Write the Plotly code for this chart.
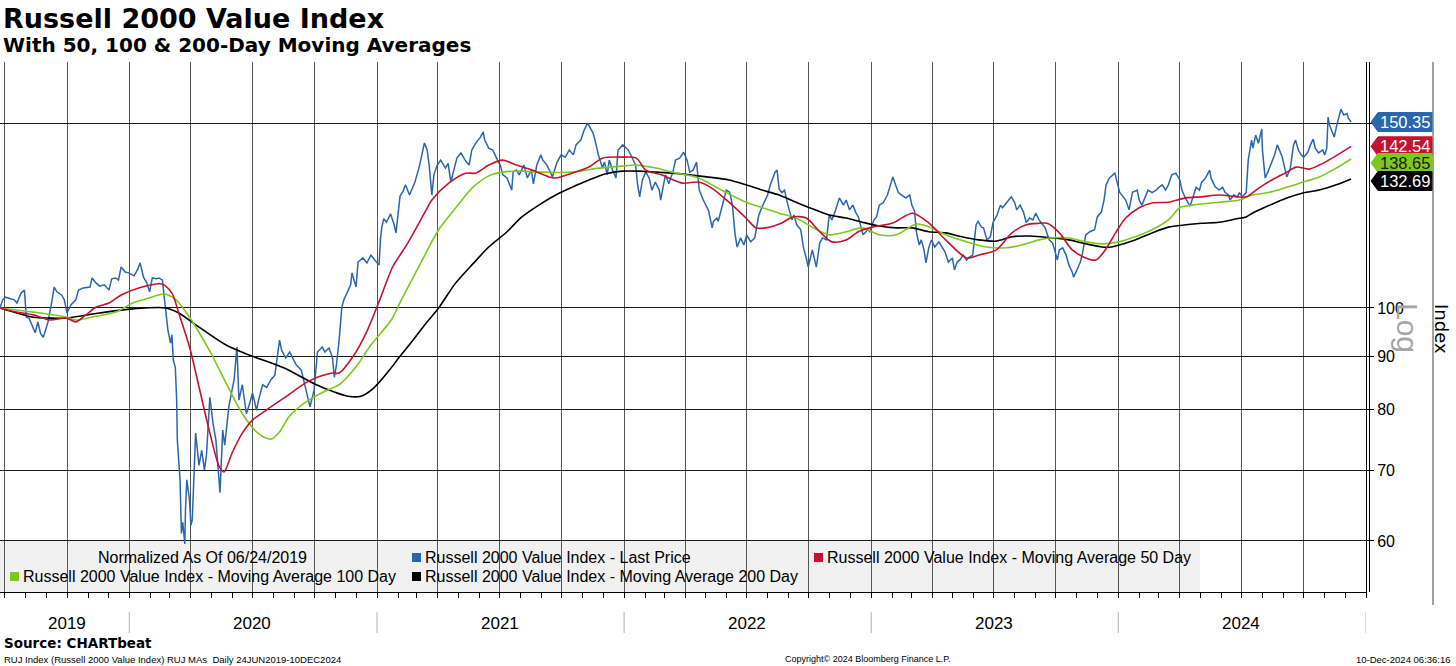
import math
import plotly.graph_objects as go

# ---------------- data ----------------
price_dates = [
"2019-06-24","2019-06-28","2019-07-02","2019-07-09","2019-07-15","2019-07-19","2019-07-25","2019-07-30",
"2019-08-02","2019-08-06","2019-08-12","2019-08-15","2019-08-19","2019-08-23","2019-08-27","2019-09-03",
"2019-09-09","2019-09-12","2019-09-16","2019-09-23","2019-09-27","2019-10-01","2019-10-07","2019-10-14",
"2019-10-18","2019-10-25","2019-11-04","2019-11-07","2019-11-13","2019-11-18","2019-11-25","2019-12-02",
"2019-12-06","2019-12-12","2019-12-16","2019-12-20","2019-12-26","2019-12-31",
"2020-01-08","2020-01-13","2020-01-17","2020-01-22","2020-01-27","2020-01-31","2020-02-04","2020-02-10",
"2020-02-14","2020-02-19","2020-02-21","2020-02-24","2020-02-27","2020-03-02","2020-03-04","2020-03-06",
"2020-03-09","2020-03-11","2020-03-12","2020-03-16","2020-03-18","2020-03-20","2020-03-23","2020-03-24",
"2020-03-26","2020-03-30","2020-04-01","2020-04-03","2020-04-06","2020-04-08","2020-04-13","2020-04-17",
"2020-04-21","2020-04-24","2020-04-29","2020-05-04","2020-05-08","2020-05-14","2020-05-18","2020-05-21",
"2020-05-27","2020-06-01","2020-06-04","2020-06-08","2020-06-11","2020-06-16","2020-06-22","2020-06-26",
"2020-07-01","2020-07-07","2020-07-10","2020-07-16","2020-07-22","2020-07-28","2020-08-03","2020-08-10",
"2020-08-13","2020-08-19","2020-08-25","2020-08-31","2020-09-04","2020-09-11","2020-09-17","2020-09-21",
"2020-09-24","2020-09-30","2020-10-05","2020-10-12","2020-10-16","2020-10-22","2020-10-27","2020-10-30",
"2020-11-02","2020-11-06","2020-11-10","2020-11-13","2020-11-18","2020-11-23","2020-11-25","2020-12-01",
"2020-12-04","2020-12-11","2020-12-17","2020-12-23","2020-12-31",
"2021-01-04","2021-01-06","2021-01-08","2021-01-11","2021-01-15","2021-01-21","2021-01-26","2021-01-29",
"2021-02-04","2021-02-08","2021-02-12","2021-02-18","2021-02-26","2021-03-05","2021-03-12","2021-03-16",
"2021-03-19","2021-03-23","2021-03-26","2021-03-31","2021-04-05","2021-04-12","2021-04-16","2021-04-20",
"2021-04-26","2021-04-29","2021-05-05","2021-05-11","2021-05-17","2021-05-21","2021-05-27","2021-06-02",
"2021-06-07","2021-06-09","2021-06-15","2021-06-21","2021-06-28","2021-07-02","2021-07-06","2021-07-12",
"2021-07-19","2021-07-21","2021-07-26","2021-07-30","2021-08-06","2021-08-11","2021-08-17","2021-08-20",
"2021-08-25","2021-08-31","2021-09-03","2021-09-09","2021-09-14","2021-09-17","2021-09-24","2021-09-30",
"2021-10-06","2021-10-12","2021-10-18","2021-10-22","2021-10-29","2021-11-03","2021-11-08","2021-11-12",
"2021-11-16","2021-11-19","2021-11-24","2021-11-30","2021-12-03","2021-12-07","2021-12-10","2021-12-15",
"2021-12-20","2021-12-23","2021-12-30",
"2022-01-04","2022-01-07","2022-01-12","2022-01-18","2022-01-21","2022-01-24","2022-01-28","2022-02-02",
"2022-02-07","2022-02-11","2022-02-16","2022-02-22","2022-02-24","2022-03-03","2022-03-08","2022-03-14",
"2022-03-18","2022-03-24","2022-03-30","2022-04-04","2022-04-08","2022-04-13","2022-04-18","2022-04-22",
"2022-04-28","2022-05-02","2022-05-06","2022-05-11","2022-05-13","2022-05-18","2022-05-20","2022-05-24",
"2022-06-01","2022-06-06","2022-06-10","2022-06-14","2022-06-17","2022-06-22","2022-06-27","2022-07-01",
"2022-07-07","2022-07-13","2022-07-19","2022-07-25","2022-08-01","2022-08-05","2022-08-12","2022-08-15",
"2022-08-18","2022-08-22","2022-08-26","2022-08-31","2022-09-06","2022-09-09","2022-09-13","2022-09-19",
"2022-09-23","2022-09-27","2022-09-30","2022-10-06","2022-10-12","2022-10-17","2022-10-21","2022-10-27",
"2022-10-31","2022-11-04","2022-11-09","2022-11-15","2022-11-21","2022-11-25","2022-11-30","2022-12-05",
"2022-12-09","2022-12-13","2022-12-20","2022-12-27","2022-12-30",
"2023-01-05","2023-01-09","2023-01-13","2023-01-19","2023-01-25","2023-02-02","2023-02-06","2023-02-10",
"2023-02-15","2023-02-21","2023-02-27","2023-03-02","2023-03-06","2023-03-09","2023-03-13","2023-03-16",
"2023-03-20","2023-03-23","2023-03-27","2023-03-31","2023-04-05","2023-04-11","2023-04-14","2023-04-20",
"2023-04-25","2023-05-01","2023-05-04","2023-05-08","2023-05-12","2023-05-17","2023-05-22","2023-05-26",
"2023-05-31","2023-06-05","2023-06-08","2023-06-13","2023-06-16","2023-06-21","2023-06-26","2023-06-30",
"2023-07-06","2023-07-11","2023-07-14","2023-07-20","2023-07-27","2023-08-01","2023-08-04","2023-08-09",
"2023-08-14","2023-08-18","2023-08-23","2023-08-28","2023-09-01","2023-09-06","2023-09-11","2023-09-15",
"2023-09-21","2023-09-26","2023-09-29","2023-10-03","2023-10-06","2023-10-11","2023-10-16","2023-10-20",
"2023-10-25","2023-10-27","2023-11-01","2023-11-06","2023-11-09","2023-11-14","2023-11-20","2023-11-27",
"2023-12-01","2023-12-07","2023-12-11","2023-12-14","2023-12-19","2023-12-27",
"2024-01-03","2024-01-08","2024-01-12","2024-01-17","2024-01-22","2024-01-29","2024-02-01","2024-02-05",
"2024-02-09","2024-02-14","2024-02-20","2024-02-26","2024-03-01","2024-03-06","2024-03-11","2024-03-15",
"2024-03-20","2024-03-26","2024-04-01","2024-04-04","2024-04-09","2024-04-16","2024-04-19","2024-04-25",
"2024-04-30","2024-05-03","2024-05-09","2024-05-15","2024-05-17","2024-05-23","2024-05-29","2024-06-03",
"2024-06-07","2024-06-12","2024-06-14","2024-06-20","2024-06-25","2024-06-28","2024-07-02","2024-07-08",
"2024-07-11","2024-07-16","2024-07-18","2024-07-22","2024-07-26","2024-07-31","2024-08-01","2024-08-05",
"2024-08-09","2024-08-13","2024-08-19","2024-08-23","2024-08-27","2024-08-30","2024-09-06","2024-09-11",
"2024-09-16","2024-09-19","2024-09-23","2024-09-27","2024-10-01","2024-10-07","2024-10-11","2024-10-15",
"2024-10-18","2024-10-23","2024-10-29","2024-11-01","2024-11-04","2024-11-06","2024-11-08","2024-11-13",
"2024-11-15","2024-11-19","2024-11-25","2024-11-29","2024-12-04","2024-12-06","2024-12-10",
]
price_vals = [
100.0,101.8,102.4,102.0,101.8,101.1,103.3,104.0,
98.0,97.8,95.9,94.7,97.0,94.5,93.8,97.0,
101.8,104.7,103.6,102.9,101.8,98.9,100.7,101.8,
104.0,104.5,104.7,106.8,105.6,104.9,105.2,104.0,
106.6,106.8,106.3,109.4,108.2,108.0,
107.3,108.7,110.4,107.0,105.6,103.6,106.8,106.6,
106.8,106.3,103.3,99.6,95.3,92.6,94.3,89.2,
87.8,81.7,74.8,68.6,61.0,62.5,59.6,64.2,
68.6,65.6,62.1,62.8,70.1,76.0,70.8,73.2,
70.1,72.4,82.2,77.4,74.8,66.7,76.5,74.0,
80.5,83.5,85.6,91.8,81.7,84.5,79.3,80.8,
83.0,79.9,81.7,84.5,84.0,85.4,86.3,93.2,
91.2,89.6,90.8,89.2,88.2,87.3,84.1,81.7,
80.5,83.5,90.8,91.8,90.8,91.6,89.8,85.9,
88.2,93.2,100.2,101.8,103.3,105.2,108.0,104.7,
110.6,111.6,110.4,112.3,110.6,
109.9,116.1,119.4,121.6,120.7,122.9,120.2,117.9,
127.8,129.0,131.0,128.1,131.8,136.8,143.6,141.4,
136.8,128.1,133.9,136.8,138.3,135.9,137.3,131.8,
136.8,138.9,140.5,138.3,136.8,141.4,143.6,145.2,
147.1,144.5,142.0,141.4,138.3,136.8,133.9,133.0,
129.5,134.7,135.3,133.9,136.8,133.0,135.3,131.3,
136.8,139.9,138.3,136.8,134.7,133.3,137.7,139.9,
139.2,141.4,139.9,143.0,144.5,147.7,150.0,148.4,
146.8,144.5,139.9,135.9,137.7,133.9,138.3,135.3,
133.0,141.4,143.0,
142.0,141.4,139.4,136.8,131.0,127.6,132.4,134.7,
133.0,129.5,131.8,129.5,126.7,133.9,131.3,134.7,
138.3,138.9,140.7,138.3,134.7,135.3,137.7,129.5,
126.7,125.0,123.7,119.2,120.9,121.8,120.9,123.7,
129.5,128.9,125.3,117.4,114.3,116.6,114.8,117.4,
115.6,116.6,122.6,125.3,128.1,131.0,134.7,135.3,
129.8,128.8,129.5,125.3,121.3,122.6,120.0,118.7,
114.1,111.6,109.4,113.6,109.4,115.3,116.6,116.1,
122.6,121.3,123.7,127.3,125.3,126.7,124.0,125.3,
123.4,122.1,117.4,118.7,118.2,
121.3,122.1,125.3,126.0,128.1,133.3,131.0,128.9,
128.1,127.3,128.1,125.3,123.7,117.9,114.8,116.1,
113.6,110.4,114.1,116.1,114.3,115.6,114.8,113.1,
110.6,111.6,108.7,110.6,111.1,112.3,111.1,111.8,
112.3,120.0,120.9,119.4,119.2,116.1,116.9,120.6,
122.6,125.3,124.6,125.9,127.6,126.0,124.0,125.3,
123.4,120.6,121.8,121.3,123.1,121.3,120.0,119.2,
116.1,115.3,113.6,111.1,113.6,114.1,112.3,109.9,
108.2,107.0,108.7,110.6,112.6,117.4,118.2,118.7,
122.1,123.4,126.7,131.0,133.0,134.4,
128.9,127.6,126.7,124.0,128.9,129.5,126.7,125.3,
127.3,129.5,128.8,129.5,130.3,131.0,129.5,131.0,
133.9,134.4,132.4,129.5,127.3,125.0,126.7,130.3,
129.5,131.7,133.0,135.3,133.0,130.5,129.5,130.3,
128.8,128.1,126.7,128.1,127.6,128.8,127.6,128.8,
138.3,144.5,142.0,146.1,143.5,148.1,141.4,133.0,
134.7,136.8,139.9,143.0,140.7,139.4,133.3,135.6,
143.0,144.5,141.4,139.9,139.2,140.7,143.0,144.8,
142.0,140.5,141.4,139.9,142.0,152.0,149.4,146.8,
145.5,149.4,154.6,152.7,153.2,151.6,150.35,
]

ma50_dates = [
"2019-06-24","2019-07-18","2019-08-12","2019-09-05","2019-09-30","2019-10-14","2019-10-29","2019-11-13",
"2019-12-02","2019-12-20","2020-01-15","2020-02-18","2020-03-04","2020-03-14","2020-03-30","2020-04-13",
"2020-04-28","2020-05-13","2020-05-20","2020-06-01","2020-06-16","2020-07-01","2020-07-21","2020-08-19",
"2020-09-17","2020-10-03","2020-10-27","2020-11-06","2020-11-26","2020-12-16","2021-01-05","2021-01-24",
"2021-02-14","2021-03-12","2021-03-23","2021-04-17","2021-05-12","2021-05-27","2021-06-15","2021-07-05",
"2021-07-26","2021-08-18","2021-09-12","2021-09-22","2021-10-16","2021-11-10","2021-11-30","2021-12-29",
"2022-01-19","2022-02-02","2022-02-25","2022-03-28","2022-04-21","2022-05-11","2022-06-05","2022-06-30",
"2022-07-15","2022-07-29","2022-08-22","2022-09-07","2022-09-27","2022-10-17","2022-11-04","2022-11-25",
"2022-12-13","2023-01-03","2023-02-02","2023-03-03","2023-03-27","2023-04-21","2023-05-22","2023-06-09",
"2023-07-05","2023-07-28","2023-08-18","2023-09-06","2023-09-18","2023-10-06","2023-10-25","2023-11-14",
"2023-11-29","2023-12-13","2023-12-28","2024-01-12","2024-02-01","2024-02-20","2024-03-15","2024-04-10",
"2024-05-03","2024-05-29","2024-06-24","2024-07-08","2024-07-26","2024-08-15","2024-09-06","2024-09-20",
"2024-10-09","2024-10-24","2024-11-12","2024-12-10",
]
ma50_vals = [
100.0,99.1,98.5,97.4,97.8,97.0,98.5,100.2,
101.1,102.9,104.5,105.4,103.3,98.9,91.8,84.1,
76.5,70.6,69.8,72.8,76.0,78.2,79.9,82.3,
84.8,85.8,86.7,86.7,89.8,94.7,101.8,109.4,
114.9,123.1,126.7,131.5,134.4,134.4,136.8,138.3,
136.8,135.3,133.3,133.0,134.4,136.2,138.9,139.2,
138.9,135.3,133.9,131.5,131.8,130.0,126.1,121.8,
119.2,119.2,120.5,122.1,121.8,118.2,115.6,116.1,
118.2,119.4,120.5,123.1,120.5,116.1,111.6,112.3,
113.6,117.9,120.0,120.4,120.4,117.9,113.6,111.6,
111.1,113.6,117.9,121.8,124.6,125.9,126.1,127.3,
127.6,128.1,127.6,127.6,130.0,132.4,134.7,136.2,
135.6,136.8,138.9,142.54,
]

ma100_dates = [
"2019-06-24","2019-08-12","2019-09-30","2019-10-14","2019-11-06","2019-12-12","2020-01-06","2020-01-30",
"2020-02-21","2020-03-10","2020-03-30","2020-04-28","2020-05-23","2020-06-16","2020-07-10","2020-07-28",
"2020-08-10","2020-08-24","2020-09-17","2020-10-19","2020-11-06","2020-12-01","2020-12-24","2021-01-22",
"2021-02-05","2021-03-12","2021-04-02","2021-04-28","2021-05-21","2021-06-15","2021-07-05","2021-08-03",
"2021-08-28","2021-10-16","2021-11-25","2021-12-29","2022-01-19","2022-02-17","2022-03-13","2022-04-21",
"2022-05-20","2022-06-30","2022-07-24","2022-08-18","2022-09-12","2022-10-06","2022-10-31","2022-11-25",
"2022-12-19","2023-01-13","2023-02-07","2023-03-09","2023-03-31","2023-04-21","2023-05-22","2023-06-20",
"2023-07-19","2023-08-11","2023-09-06","2023-09-21","2023-10-20","2023-11-14","2023-12-08","2024-01-02",
"2024-01-26","2024-02-20","2024-03-15","2024-04-01","2024-04-19","2024-05-29","2024-06-28","2024-07-17",
"2024-08-12","2024-09-06","2024-09-30","2024-10-24","2024-11-18","2024-12-10",
]
ma100_vals = [
100.0,99.1,98.0,97.4,98.0,99.1,101.1,102.2,
103.1,101.8,98.0,91.2,84.8,79.3,75.9,75.0,
76.2,78.8,81.3,83.5,84.5,87.9,92.4,97.4,
101.5,112.1,118.7,124.7,130.0,133.6,134.7,135.0,
134.7,134.7,135.9,136.5,136.8,135.9,134.7,133.0,
130.0,126.1,124.6,123.1,121.8,119.4,117.4,118.2,
119.2,117.4,117.4,120.2,119.2,117.4,115.6,114.3,
114.1,114.8,116.1,116.6,116.6,115.6,115.1,115.6,
116.9,118.7,121.3,124.6,125.3,126.1,126.7,128.1,
128.9,130.3,131.8,133.3,135.9,138.65,
]

ma200_dates = [
"2019-06-24","2019-08-12","2019-09-05","2019-09-30","2019-11-18","2020-01-06","2020-02-24","2020-03-14",
"2020-04-13","2020-05-23","2020-06-26","2020-08-16","2020-09-30","2020-10-29","2020-11-19","2020-12-08",
"2020-12-27","2021-01-22","2021-02-03","2021-02-21","2021-03-12","2021-04-02","2021-04-27","2021-05-24",
"2021-06-15","2021-07-12","2021-08-03","2021-08-28","2021-09-22","2021-10-16","2021-11-10","2021-12-05",
"2021-12-29","2022-01-23","2022-02-17","2022-03-13","2022-04-07","2022-05-03","2022-06-05","2022-06-30",
"2022-07-24","2022-08-18","2022-09-12","2022-10-06","2022-10-31","2022-11-25","2022-12-19","2023-01-13",
"2023-02-07","2023-03-03","2023-03-27","2023-04-21","2023-05-15","2023-06-09","2023-07-05","2023-07-28",
"2023-08-23","2023-09-26","2023-10-20","2023-11-14","2023-12-08","2023-12-22","2024-01-02","2024-01-26",
"2024-02-20","2024-03-15","2024-04-10","2024-05-03","2024-05-29","2024-06-24","2024-07-08","2024-07-17",
"2024-08-12","2024-09-06","2024-09-30","2024-10-24","2024-11-18","2024-12-10",
]
ma200_vals = [
100.0,98.0,97.8,97.8,98.9,99.8,100.0,98.9,
95.9,92.2,90.2,87.7,84.7,83.2,82.4,82.4,
83.9,87.7,89.8,92.8,96.3,100.0,105.6,110.4,
114.3,118.2,122.1,125.3,128.1,130.3,132.4,134.2,
135.0,135.0,134.7,134.4,133.9,133.3,132.4,131.0,
129.5,128.1,126.1,124.3,122.6,121.8,120.7,119.7,
119.2,119.2,118.2,117.9,116.9,116.1,115.8,116.9,
117.1,116.6,116.1,115.1,114.3,114.3,114.8,116.1,
117.9,119.4,120.0,120.4,120.7,121.6,122.1,123.1,
125.3,127.3,128.7,129.5,131.0,132.69,
]

y_tick_vals = [60, 70, 80, 90, 100, 150]
y_tick_text = ["60", "70", "80", "90", "100", ""]
year_labels = ["2019", "2020", "2021", "2022", "2023", "2024"]
year_label_dates = ["2019-10-01", "2020-07-01", "2021-07-01", "2022-07-01", "2023-07-01", "2024-07-01"]
year_bounds = ["2020-01-01", "2021-01-01", "2022-01-01", "2023-01-01", "2024-01-01", "2025-01-01"]
x_start, x_end = "2019-06-24", "2025-01-01"
y_lo, y_hi = 53.64, 171.5

series_names = [
    "Russell 2000 Value Index - Last Price",
    "Russell 2000 Value Index - Moving Average 50 Day",
    "Russell 2000 Value Index - Moving Average 100 Day",
    "Russell 2000 Value Index - Moving Average 200 Day",
]
last_labels = ["150.35", "142.54", "138.65", "132.69"]
last_values = [150.35, 142.54, 138.65, 132.69]

# ---------------- styling ----------------
BLUE = "#2a66ae"
RED = "#c3132f"
GREEN = "#7ec81e"
BLACK = "#000000"
FONT = "Liberation Sans"

W, H = 1456, 666
ML, MR, MT, MB = 0, 90, 62, 74
PW, PH = W - ML - MR, H - MT - MB


def px_x(px):
    return (px - ML) / PW


def px_y(py):
    return (H - MB - py) / PH


fig = go.Figure()
fig.add_trace(go.Scatter(x=price_dates, y=price_vals, mode="lines", name=series_names[0],
                         line=dict(color=BLUE, width=1.5)))
fig.add_trace(go.Scatter(x=ma200_dates, y=ma200_vals, mode="lines", name=series_names[3],
                         line=dict(color=BLACK, width=1.6, shape="spline", smoothing=0.8)))
fig.add_trace(go.Scatter(x=ma100_dates, y=ma100_vals, mode="lines", name=series_names[2],
                         line=dict(color=GREEN, width=1.6, shape="spline", smoothing=0.8)))
fig.add_trace(go.Scatter(x=ma50_dates, y=ma50_vals, mode="lines", name=series_names[1],
                         line=dict(color=RED, width=1.6, shape="spline", smoothing=0.8)))

fig.update_layout(
    width=W, height=H, margin=dict(l=ML, r=MR, t=MT, b=MB),
    paper_bgcolor="white", plot_bgcolor="white", showlegend=False,
    font=dict(family=FONT, color="#000"),
)
fig.update_xaxes(
    type="date", range=[x_start, x_end], dtick="M3", tick0="2019-07-01",
    showgrid=True, gridcolor="#555555", gridwidth=1, showticklabels=False,
    ticks="outside", ticklen=5, tickcolor="#000", showline=True, linecolor="#000", linewidth=1,
    minor=dict(dtick="M1", tick0="2019-07-01", ticks="outside", ticklen=5, tickcolor="#000", showgrid=False),
    zeroline=False,
)
fig.update_yaxes(
    type="log", range=[math.log10(y_lo), math.log10(y_hi)], side="right",
    tickvals=y_tick_vals, ticktext=y_tick_text, showgrid=True, gridcolor="#1a1a1a", gridwidth=1,
    ticks="outside", ticklen=7, tickcolor="#000", showline=True, linecolor="#000", linewidth=1,
    tickfont=dict(family=FONT, size=16, color="#000"), zeroline=False,
)

shapes = []
annotations = []

# legend background (beneath grid lines)
shapes.append(dict(type="rect", xref="paper", yref="paper", x0=px_x(0), x1=px_x(1200),
                   y0=px_y(592), y1=px_y(541), fillcolor="#f1f1f1", line=dict(width=0), layer="below"))
# second right axis line
shapes.append(dict(type="line", xref="paper", yref="paper", x0=px_x(1369.5), x1=px_x(1369.5),
                   y0=0, y1=1, line=dict(color="#000", width=1)))
# far right frame line
shapes.append(dict(type="line", xref="paper", yref="paper", x0=px_x(1433), x1=px_x(1433),
                   y0=px_y(605), y1=1, line=dict(color="#444", width=1)))
# year separators below axis
for d in year_bounds:
    shapes.append(dict(type="line", xref="x", yref="paper", x0=d, x1=d, y0=px_y(612), y1=px_y(633),
                       line=dict(color="#b0b0b0", width=1)))
for lab, d in zip(year_labels, year_label_dates):
    annotations.append(dict(xref="x", yref="paper", x=d, y=px_y(623), text=lab, showarrow=False,
                            xanchor="center", yanchor="middle", font=dict(family=FONT, size=17, color="#000")))

# last value tags
tag_colors = [BLUE, RED, GREEN, BLACK]
tag_text_colors = ["#ffffff", "#ffffff", "#1a1a1a", "#ffffff"]
tag_offsets = [0, 0, -4, -2]
for lab, v, c, tc, off in zip(last_labels, last_values, tag_colors, tag_text_colors, tag_offsets):
    path = (f"M 5 {off} L 12 {off + 9.5} L 66 {off + 9.5} L 66 {off - 9.5} L 12 {off - 9.5} Z")
    shapes.append(dict(type="path", xref="paper", xsizemode="pixel", xanchor=1,
                       yref="y", ysizemode="pixel", yanchor=v, path=path,
                       fillcolor=c, line=dict(color=c, width=1), layer="above"))
    annotations.append(dict(xref="paper", yref="y", x=px_x(1405), y=math.log10(v), yshift=off,
                            text=lab, showarrow=False, xanchor="center", yanchor="middle",
                            font=dict(family=FONT, size=16.5, color=tc)))

# legend entries
legend_items = [
    (series_names[0], BLUE, 412, 557),
    (series_names[1], RED, 814, 557),
    (series_names[2], GREEN, 10, 576),
    (series_names[3], BLACK, 412, 576),
]
for name, c, x0, yc in legend_items:
    shapes.append(dict(type="rect", xref="paper", yref="paper", x0=px_x(x0), x1=px_x(x0 + 9),
                       y0=px_y(yc + 5), y1=px_y(yc - 4), fillcolor=c, line=dict(width=0)))
    annotations.append(dict(xref="paper", yref="paper", x=px_x(x0 + 11), y=px_y(yc), text=name,
                            showarrow=False, xanchor="left", yanchor="middle",
                            font=dict(family=FONT, size=16, color="#000")))
annotations.append(dict(xref="paper", yref="paper", x=px_x(202), y=px_y(557),
                        text="Normalized As Of 06/24/2019", showarrow=False, xanchor="center",
                        yanchor="middle", font=dict(family=FONT, size=16, color="#000")))

# titles
annotations.append(dict(xref="paper", yref="paper", x=px_x(1), y=px_y(18),
                        text="<b>Russell 2000 Value Index</b>", showarrow=False, xanchor="left",
                        yanchor="middle", font=dict(family="DejaVu Sans", size=27, color="#000")))
annotations.append(dict(xref="paper", yref="paper", x=px_x(1), y=px_y(45),
                        text="<b>With 50, 100 & 200-Day Moving Averages</b>", showarrow=False,
                        xanchor="left", yanchor="middle",
                        font=dict(family="DejaVu Sans", size=20, color="#000")))

# axis side labels
annotations.append(dict(xref="paper", yref="paper", x=px_x(1408), y=px_y(328), text="Log",
                        showarrow=False, textangle=90, xanchor="center", yanchor="middle",
                        font=dict(family=FONT, size=30, color="#a6a6a6")))
annotations.append(dict(xref="paper", yref="paper", x=px_x(1442), y=px_y(329), text="Index",
                        showarrow=False, textangle=90, xanchor="center", yanchor="middle",
                        font=dict(family="DejaVu Sans", size=18, color="#000")))

# footer
annotations.append(dict(xref="paper", yref="paper", x=px_x(2), y=px_y(643),
                        text="<b>Source: CHARTbeat</b>", showarrow=False, xanchor="left",
                        yanchor="middle", font=dict(family="DejaVu Sans", size=13.5, color="#000")))
annotations.append(dict(xref="paper", yref="paper", x=px_x(2), y=px_y(659),
                        text="RUJ Index (Russell 2000 Value Index) RUJ MAs  Daily 24JUN2019-10DEC2024",
                        showarrow=False, xanchor="left", yanchor="middle",
                        font=dict(family=FONT, size=9.5, color="#000")))
annotations.append(dict(xref="paper", yref="paper", x=px_x(868), y=px_y(659),
                        text="Copyright\u00a9 2024 Bloomberg Finance L.P.", showarrow=False,
                        xanchor="center", yanchor="middle", font=dict(family=FONT, size=9, color="#000")))
annotations.append(dict(xref="paper", yref="paper", x=px_x(1453), y=px_y(659),
                        text="10-Dec-2024 06:36:16", showarrow=False, xanchor="right",
                        yanchor="middle", font=dict(family=FONT, size=9.5, color="#000")))

fig.update_layout(shapes=shapes, annotations=annotations)
fig.write_html("out.html", config={"displayModeBar": False},
               post_script="document.body.style.margin='0';document.body.style.overflow='hidden';")
